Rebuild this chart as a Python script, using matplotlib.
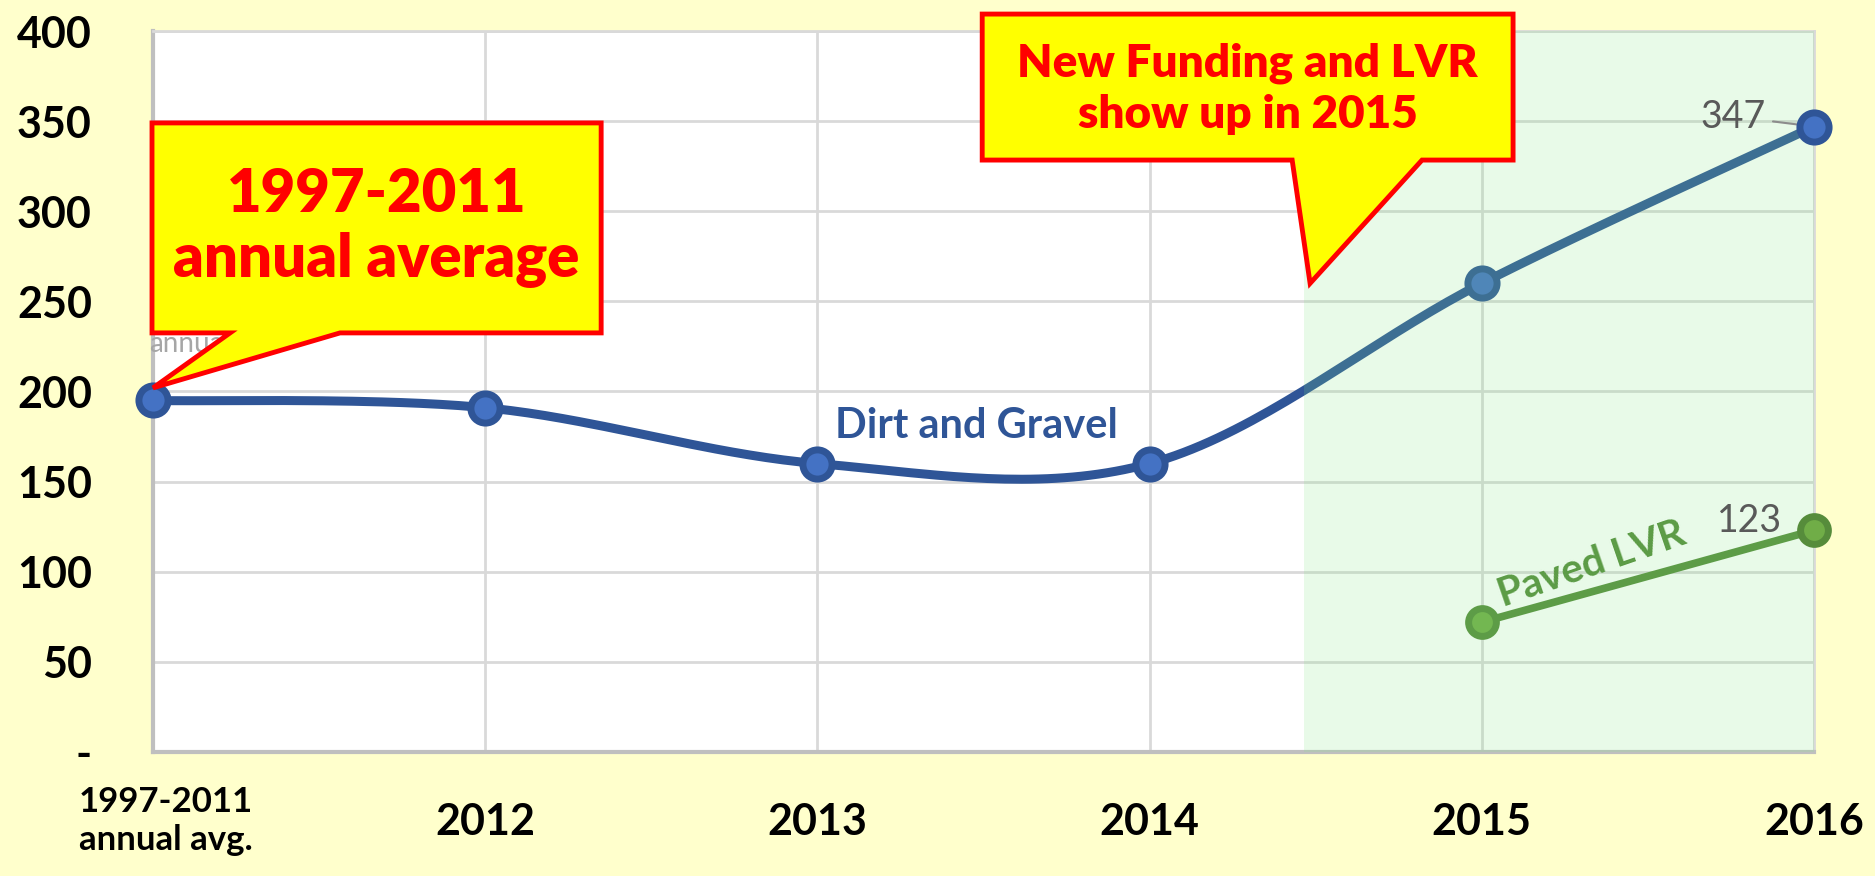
import numpy as np
import matplotlib.pyplot as plt
from matplotlib.patches import Polygon

plt.rcParams['font.family'] = ['Lato', 'DejaVu Sans']

# data
categories = ["1997-2011\nannual avg.", "2012", "2013", "2014", "2015", "2016"]
dirt_gravel = [195, 191, 160, 160, 260, 347]
paved_x = [4, 5]
paved_lvr = [72, 123]
y_ticks = [0, 50, 100, 150, 200, 250, 300, 350, 400]
y_labels = ["-", "50", "100", "150", "200", "250", "300", "350", "400"]

BG = '#FFFFCC'
BLUE = '#2F5597'
BLUE_FACE = '#4472C4'
GREEN = '#568C3B'
GREEN_FACE = '#70AD47'
RED = '#FF0000'


def smooth(xs, ys, n=40):
    # Excel-style smoothed line: cubic bezier with catmull-rom control points
    xs = np.asarray(xs, float)
    ys = np.asarray(ys, float)
    px = np.concatenate([[xs[0]], xs, [xs[-1]]])
    py = np.concatenate([[ys[0]], ys, [ys[-1]]])
    out_x, out_y = [], []
    t = np.linspace(0, 1, n)
    for i in range(1, len(px) - 2):
        p0 = np.array([px[i], py[i]])
        p3 = np.array([px[i + 1], py[i + 1]])
        p1 = p0 + (np.array([px[i + 1], py[i + 1]]) - np.array([px[i - 1], py[i - 1]])) / 6
        p2 = p3 - (np.array([px[i + 2], py[i + 2]]) - np.array([px[i], py[i]])) / 6
        b = ((1 - t) ** 3)[:, None] * p0 + (3 * (1 - t) ** 2 * t)[:, None] * p1 \
            + (3 * (1 - t) * t ** 2)[:, None] * p2 + (t ** 3)[:, None] * p3
        out_x.extend(b[:, 0])
        out_y.extend(b[:, 1])
    return np.array(out_x), np.array(out_y)


fig = plt.figure(figsize=(18.75, 8.76), dpi=100, facecolor=BG)
ax = fig.add_axes([0.0816, 0.1416, 0.8859, 0.823])
ax.set_facecolor('white')

x = np.arange(len(categories))
sx, sy = smooth(x, dirt_gravel)
ax.plot(sx, sy, color=BLUE, lw=6.5, solid_capstyle='round', zorder=3, clip_on=False)
ax.plot(x[:-1], dirt_gravel[:-1], 'o', ms=21, mfc=BLUE_FACE, mec=BLUE, mew=5,
        zorder=4, clip_on=False)
ax.plot(x[-1:], dirt_gravel[-1:], 'o', ms=21, mfc=BLUE_FACE, mec=BLUE, mew=5,
        zorder=7, clip_on=False)

ax.plot(paved_x, paved_lvr, color=GREEN, lw=5.5, zorder=3, clip_on=False)
ax.plot(paved_x[:1], paved_lvr[:1], 'o', ms=20, mfc=GREEN_FACE, mec=GREEN, mew=5,
        zorder=4, clip_on=False)
ax.plot(paved_x[1:], paved_lvr[1:], 'o', ms=20, mfc=GREEN_FACE, mec=GREEN, mew=5,
        zorder=7, clip_on=False)

# shaded "new funding" period
ax.axvspan(3.465, 5, color='#82E682', alpha=0.18, lw=0, zorder=5)

ax.set_xlim(0, 5)
ax.set_ylim(0, 400)
ax.set_yticks(y_ticks)
ax.set_yticklabels(y_labels, fontsize=31, fontweight='bold')
ax.set_xticks(x)
ax.set_xticklabels([""] + categories[1:], fontsize=31, fontweight='bold')
ax.tick_params(axis='both', length=0)
ax.tick_params(axis='y', pad=44)
ax.tick_params(axis='x', pad=36)
ax.grid(True, color='#D9D9D9', lw=2, zorder=0)
ax.set_axisbelow(True)
for s in ax.spines.values():
    s.set_color('#D9D9D9')
    s.set_linewidth(2)
ax.spines['left'].set_color('#BFBFBF')
ax.spines['bottom'].set_color('#BFBFBF')
ax.spines['left'].set_linewidth(3)
ax.spines['bottom'].set_linewidth(3)

ax.annotate(categories[0], xy=(0, 0), xycoords=('data', 'axes fraction'),
            xytext=(-74, -34), textcoords='offset pixels', ha='left', va='top',
            fontsize=25, fontweight='bold', linespacing=1.25)

# series labels
ax.text(2.48, 181, "Dirt and Gravel", color=BLUE, fontsize=30, fontweight='bold',
        ha='center', va='center', zorder=6)
ax.text(4.33, 104, "Paved LVR", color='#5B9B45', fontsize=29, fontweight='bold',
        ha='center', va='center', rotation=19, zorder=6)

# data labels
ax.annotate(str(dirt_gravel[-1]), xy=(5, dirt_gravel[-1]), xytext=(-48, 10),
            textcoords='offset pixels', ha='right', va='center', fontsize=27,
            color='#595959', zorder=6,
            arrowprops=dict(arrowstyle='-', color='#8C8C8C', lw=1.5, shrinkA=3, shrinkB=6))
ax.annotate(str(paved_lvr[-1]), xy=(5, paved_lvr[-1]), xytext=(-32, 9),
            textcoords='offset pixels', ha='right', va='center', fontsize=27,
            color='#595959', zorder=6)
ax.annotate("annual", xy=(0, dirt_gravel[0]), xytext=(-4, 48),
            textcoords='offset pixels', ha='left', va='baseline', fontsize=20,
            color='#A6A6A6', zorder=6)

# callouts
box1 = [(-0.003, 349), (1.349, 349), (1.349, 232.5), (0.563, 232.5),
        (0.0, 202), (0.232, 232.5), (-0.003, 232.5)]
box2 = [(2.496, 409.4), (4.094, 409.4), (4.094, 328.4), (3.820, 328.4),
        (3.483, 260), (3.429, 328.4), (2.496, 328.4)]
for pts in (box1, box2):
    ax.add_patch(Polygon(pts, closed=True, facecolor='#FFFF00', edgecolor=RED,
                         lw=3.5, joinstyle='miter', zorder=8, clip_on=False))

ax.text(0.673, 291, "1997-2011\nannual average", color=RED, fontsize=43,
        fontweight='heavy', ha='center', va='center', linespacing=1.2, zorder=9)
ax.text(3.295, 368, "New Funding and LVR\nshow up in 2015", color=RED, fontsize=33,
        fontweight='heavy', ha='center', va='center', linespacing=1.3, zorder=9)

fig.savefig('out.png', dpi=100, facecolor=BG)
